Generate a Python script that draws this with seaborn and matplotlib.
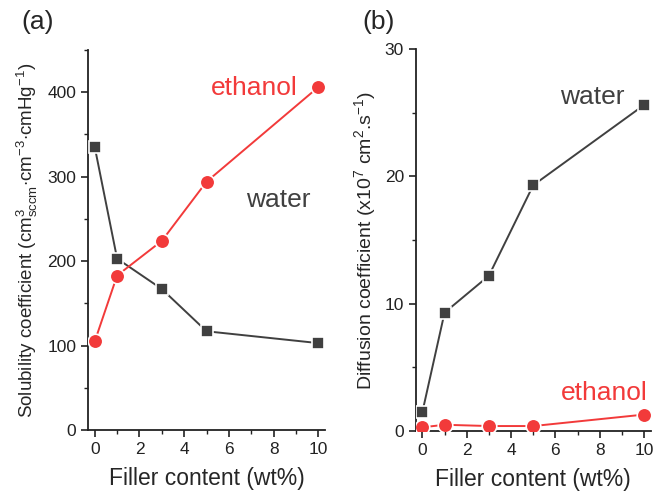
import matplotlib
matplotlib.use("Agg")
import matplotlib.pyplot as plt
import seaborn as sns
import pandas as pd
from matplotlib.ticker import MultipleLocator

sns.set_theme(style="ticks")
plt.rcParams['font.family'] = ['Liberation Sans', 'DejaVu Sans']
plt.rcParams['mathtext.fontset'] = 'custom'
plt.rcParams['mathtext.rm'] = 'Liberation Sans'
plt.rcParams['mathtext.it'] = 'Liberation Sans'

filler = [0, 1, 3, 5, 10]
sol_water = [335, 203, 167, 117, 103]
sol_ethanol = [105, 183, 224, 294, 406]
dif_water = [1.5, 9.3, 12.2, 19.3, 25.6]
dif_ethanol = [0.3, 0.5, 0.4, 0.4, 1.3]

GREY = "#404040"
RED = "#f23a3a"

fig = plt.figure(figsize=(6.62, 4.99), dpi=100)
ax1 = fig.add_axes([0.133, 0.138, 0.358, 0.762])
ax2 = fig.add_axes([0.628, 0.136, 0.355, 0.766])

def draw(ax, water, ethanol):
    df = pd.DataFrame({"x": filler * 2,
                       "y": water + ethanol,
                       "s": ["water"] * 5 + ["ethanol"] * 5})
    sns.lineplot(data=df[df.s == "water"], x="x", y="y", ax=ax, color=GREY,
                 marker="s", markersize=9, markeredgecolor="white",
                 markeredgewidth=1.2, linewidth=1.4, zorder=3)
    sns.lineplot(data=df[df.s == "ethanol"], x="x", y="y", ax=ax, color=RED,
                 marker="o", markersize=10.5, markeredgecolor="white",
                 markeredgewidth=1.2, linewidth=1.4, zorder=3)
    ax.set_xlim(-0.3, 10.3)
    ax.xaxis.set_major_locator(MultipleLocator(2))
    ax.xaxis.set_minor_locator(MultipleLocator(1))
    for s in ["top", "right"]:
        ax.spines[s].set_visible(False)
    for s in ["left", "bottom"]:
        ax.spines[s].set_linewidth(1.3)
        ax.spines[s].set_color("#222222")
    ax.tick_params(which="major", direction="out", length=5, width=1.2,
                   labelsize=12.5, colors="#222222")
    ax.tick_params(which="minor", direction="out", length=3, width=1.0,
                   colors="#222222")
    ax.set_xlabel("Filler content (wt%)", fontsize=16.5, labelpad=7)

draw(ax1, sol_water, sol_ethanol)
ax1.set_ylim(0, 450)
ax1.yaxis.set_major_locator(MultipleLocator(100))
ax1.yaxis.set_minor_locator(MultipleLocator(50))
ax1.set_ylabel(r"Solubility coefficient (cm$^{3}_{\mathrm{sccm}}$$\cdot$cm$^{-3}$$\cdot$cmHg$^{-1}$)",
               fontsize=13.5, labelpad=5)
ax1.text(0.886, 0.90, "ethanol", transform=ax1.transAxes, color=RED,
         fontsize=19, ha="right", va="center")
ax1.text(0.937, 0.605, "water", transform=ax1.transAxes, color=GREY,
         fontsize=19, ha="right", va="center")

draw(ax2, dif_water, dif_ethanol)
ax2.set_ylim(0, 30)
ax2.yaxis.set_major_locator(MultipleLocator(10))
ax2.yaxis.set_minor_locator(MultipleLocator(5))
ax2.set_ylabel(r"Diffusion coefficient (x10$^{7}$ cm$^{2}$.s$^{-1}$)",
               fontsize=14, labelpad=5)
ax2.text(0.89, 0.874, "water", transform=ax2.transAxes, color=GREY,
         fontsize=19, ha="right", va="center")
ax2.text(0.987, 0.10, "ethanol", transform=ax2.transAxes, color=RED,
         fontsize=19, ha="right", va="center")

fig.text(0.033, 0.955, "(a)", fontsize=19, ha="left", va="center")
fig.text(0.547, 0.955, "(b)", fontsize=19, ha="left", va="center")

fig.savefig("out.png", dpi=100, facecolor="white")
